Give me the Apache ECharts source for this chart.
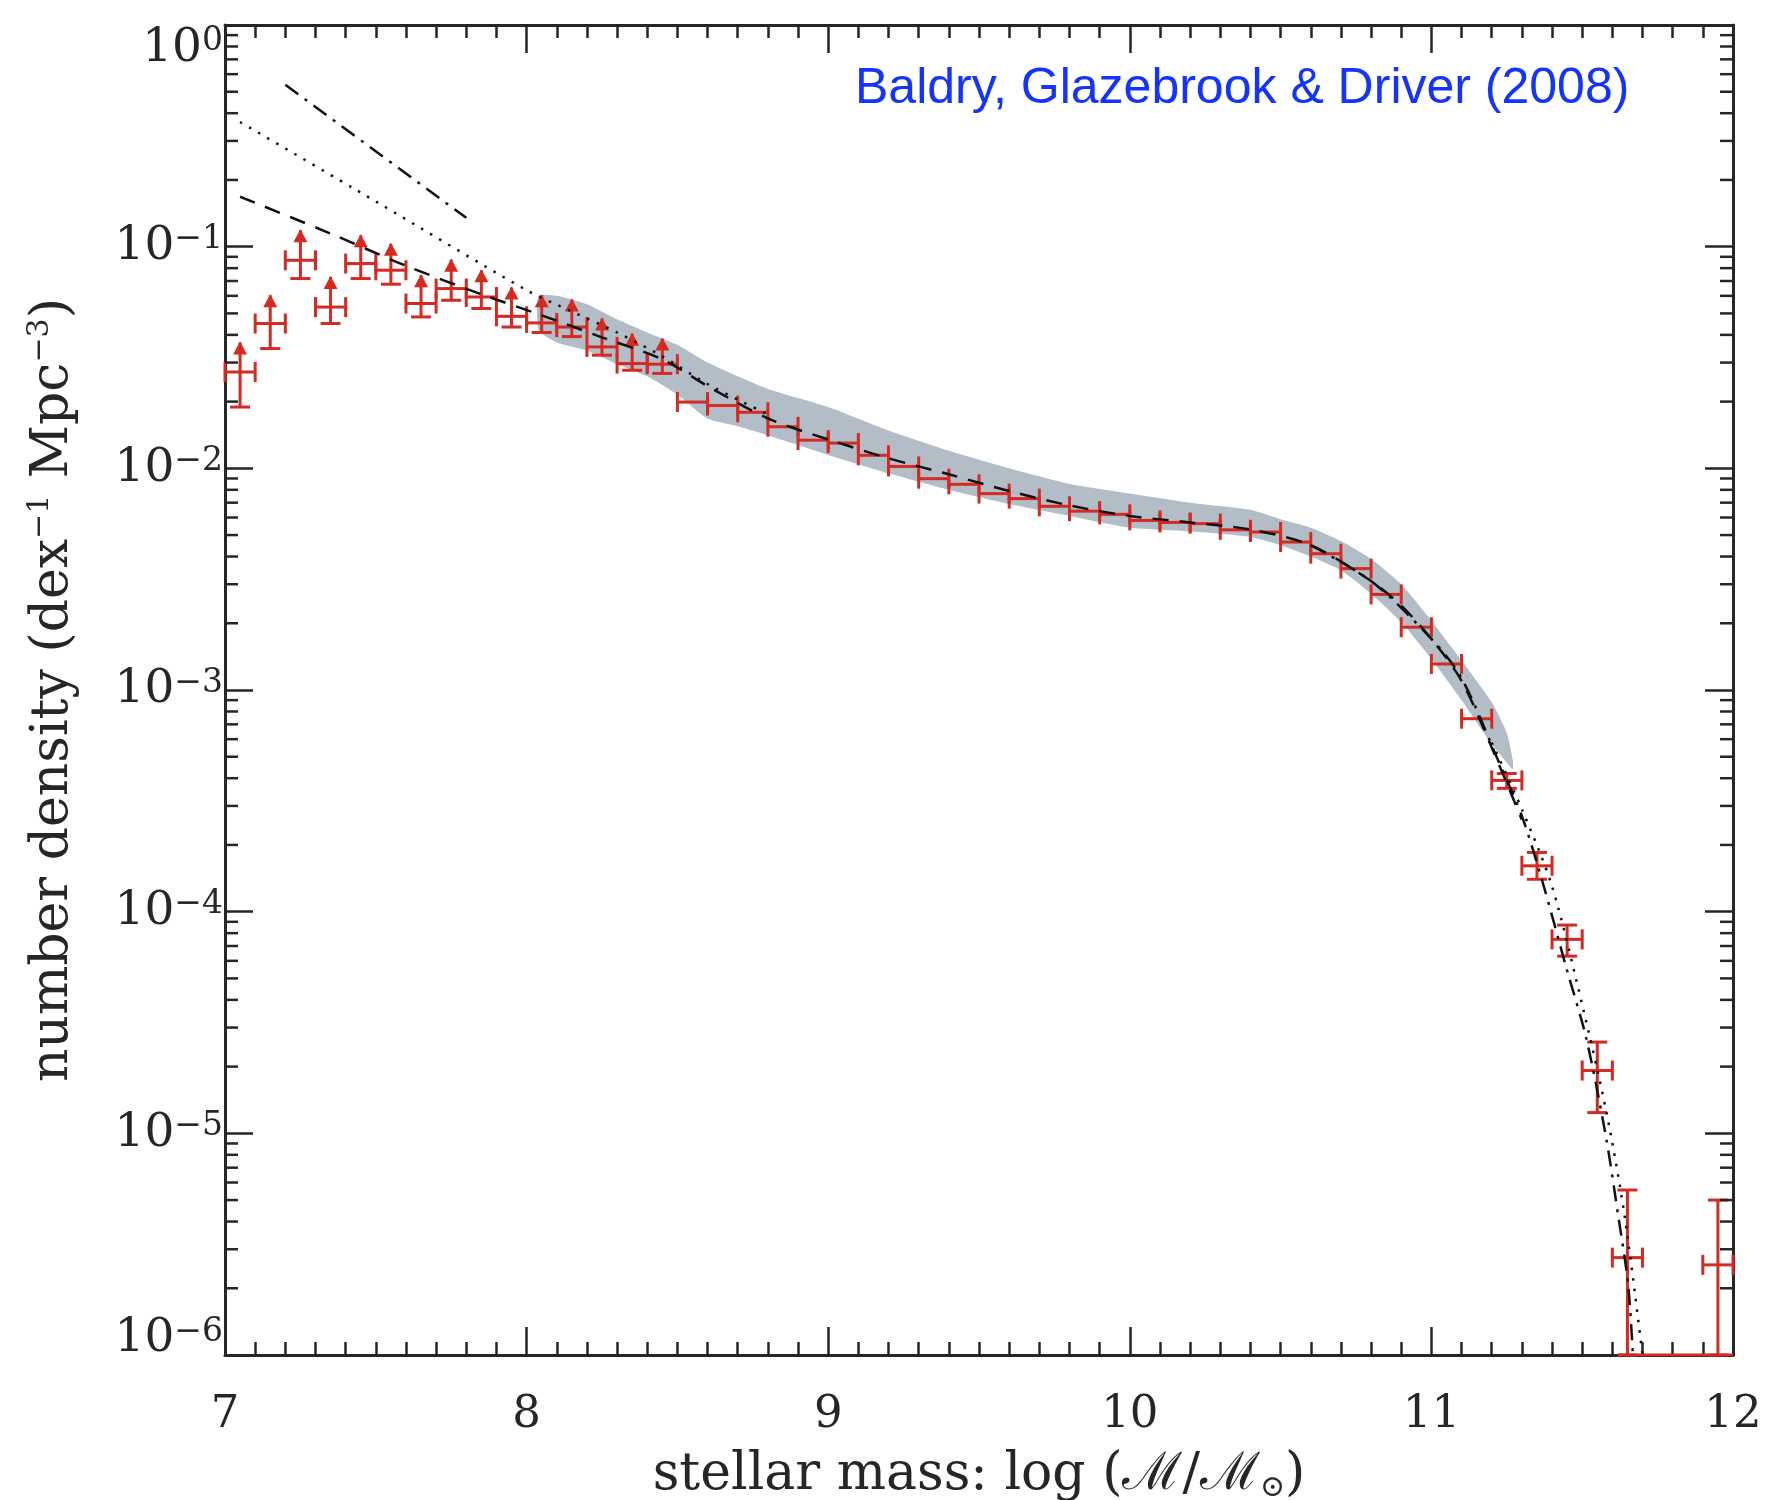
<!DOCTYPE html>
<html>
<head>
<meta charset="utf-8">
<script src="https://cdn.jsdelivr.net/npm/echarts@6/dist/echarts.min.js"></script>
<style>html,body{margin:0;padding:0;background:#fff}#c{width:1767px;height:1500px}</style>
</head>
<body>
<div id="c"></div>
<script>
// ---------------- data ----------------
// lower-limit points (with up arrows): mass, value, lower error end, arrow tip
const limMass  = [7.05, 7.15, 7.25, 7.35, 7.45, 7.55, 7.65, 7.75, 7.85, 7.95, 8.05, 8.15, 8.25, 8.35, 8.45];
const limValue = [0.0272, 0.0450, 0.0868, 0.0534, 0.0839, 0.0783, 0.0554, 0.0647, 0.0593, 0.0485, 0.0453, 0.0434, 0.0353, 0.0297, 0.0295];
const limLow   = [0.0189, 0.0347, 0.0718, 0.0450, 0.0718, 0.0677, 0.0482, 0.0573, 0.0526, 0.0434, 0.0410, 0.0393, 0.0324, 0.0277, 0.0268];
const limArrow = [0.0370, 0.0604, 0.1186, 0.0730, 0.1126, 0.1030, 0.0743, 0.0874, 0.0783, 0.0654, 0.0604, 0.0577, 0.0474, 0.0405, 0.0385];

// well-measured points (tiny vertical errors)
const midMass  = [8.55, 8.65, 8.75, 8.85, 8.95, 9.05, 9.15, 9.25, 9.35, 9.45, 9.55, 9.65, 9.75, 9.85, 9.95,
                  10.05, 10.15, 10.25, 10.35, 10.45, 10.55, 10.65, 10.75, 10.85, 10.95, 11.05, 11.15];
const midValue = [0.0199, 0.0192, 0.0179, 0.0154, 0.0134, 0.0130, 0.01145, 0.0102, 0.00898, 0.00847, 0.00769, 0.0073, 0.00674, 0.00641, 0.00620,
                  0.00582, 0.00570, 0.00563, 0.00528, 0.00516, 0.00465, 0.00412, 0.00353, 0.00270, 0.00192, 0.00131, 0.000742];

// high-mass points with visible vertical error bars
const tailMass  = [11.25, 11.35, 11.45, 11.55, 11.65, 11.95];
const tailValue = [0.000391, 0.000161, 7.5e-5, 1.92e-5, 2.75e-6, 2.55e-6];
const tailLow   = [0.000360, 0.000140, 6.3e-5, 1.24e-5, 1.0e-6, 1.0e-6];
const tailHigh  = [0.000420, 0.000185, 8.7e-5, 2.58e-5, 5.55e-6, 5.0e-6];

// red segment lying on the lower axis
const floorMass  = [11.62, 12.0];
const floorValue = [1e-6, 1e-6];

// grey uncertainty band
const bandMass  = [8.04, 8.1, 8.2, 8.3, 8.4, 8.5, 8.6, 8.7, 8.8, 9.0, 9.2, 9.4, 9.6, 9.8, 10.0, 10.2, 10.4, 10.5, 10.6, 10.7, 10.8, 10.9, 11.0, 11.1, 11.2, 11.25, 11.27];
const bandUpper = [0.060, 0.060, 0.055, 0.047, 0.041, 0.036, 0.030, 0.026, 0.0228, 0.0189, 0.0148, 0.0120, 0.0100, 0.0085, 0.0077, 0.0070, 0.0065, 0.0059, 0.0054, 0.0047, 0.0039, 0.0030, 0.00205, 0.00136, 0.00088, 0.00064, 0.00048];
const bandLower = [0.042, 0.037, 0.034, 0.0295, 0.026, 0.0215, 0.0168, 0.0155, 0.0141, 0.0115, 0.0095, 0.0080, 0.0069, 0.0061, 0.0054, 0.0052, 0.0049, 0.0045, 0.0040, 0.00347, 0.00272, 0.00202, 0.00138, 0.00090, 0.00057, 0.00047, 0.00044];

// model fits
const dashedMass  = [7.05, 7.35, 7.6, 7.85, 8.05, 8.25, 8.45, 8.6, 8.8, 9.0, 9.2, 9.4, 9.6, 9.8, 10.0, 10.2, 10.4, 10.6, 10.8, 10.9, 11.0, 11.1, 11.2, 11.3];
const dashedValue = [0.168, 0.1146, 0.082, 0.061, 0.049, 0.039, 0.031, 0.0235, 0.0168, 0.0135, 0.0111, 0.0094, 0.0079, 0.0068, 0.0061, 0.0057, 0.0053, 0.0045, 0.0031, 0.0024, 0.0017, 0.0011, 0.00055, 0.00026];

const dottedLowMass   = [7.05, 7.5, 8.0, 8.15, 8.3, 8.45, 8.6, 8.8];
const dottedLowValue  = [0.365, 0.160, 0.0636, 0.0510, 0.041, 0.032, 0.024, 0.0175];
const dottedHighMass  = [11.2, 11.3, 11.4, 11.5, 11.58, 11.64, 11.70];
const dottedHighValue = [0.00058, 0.00029, 0.00013, 3.8e-5, 1.25e-5, 4.3e-6, 1.0e-6];

const dashDotLowMass   = [7.2, 7.8];
const dashDotLowValue  = [0.537, 0.135];
const dashDotHighMass  = [10.6, 10.8, 11.0, 11.1, 11.226, 11.3, 11.37, 11.447, 11.513, 11.579, 11.62, 11.652, 11.668];
const dashDotHighValue = [0.0045, 0.0031, 0.0017, 0.00113, 0.000465, 0.00027, 0.000134, 5.6e-5, 2.7e-5, 9.6e-6, 4.2e-6, 2.1e-6, 1.0e-6];

const xTickLabels = ['7', '8', '9', '10', '11', '12'];
const BIN_HALF = 0.05;
const X_MIN = 7, X_MAX = 12, Y_MIN = 1e-6, Y_MAX = 1;

// ---------------- styling ----------------
const RED = '#d42a22';
const AX = '#262626';
const TXT = '#262626';
const BAND = '#b3bdc7';
const SERIF = 'DejaVu Serif';
const CAP = 10;

function zip(a, b) { return a.map((v, i) => [v, b[i]]); }

function errItem(params, api) {
  const x = api.value(0), y = api.value(1), lo = api.value(2), hi = api.value(3), arrow = api.value(4);
  const l = api.coord([x - BIN_HALF, y]);
  const r = api.coord([x + BIN_HALF, y]);
  const st = { stroke: RED, lineWidth: 3, fill: null };
  const kids = [
    { type: 'line', shape: { x1: l[0], y1: l[1], x2: r[0], y2: r[1] }, style: st },
    { type: 'line', shape: { x1: l[0], y1: l[1] - CAP, x2: l[0], y2: l[1] + CAP }, style: st },
    { type: 'line', shape: { x1: r[0], y1: r[1] - CAP, x2: r[0], y2: r[1] + CAP }, style: st }
  ];
  if (lo !== hi) {
    const pl = api.coord([x, lo]), ph = api.coord([x, hi]);
    kids.push({ type: 'line', shape: { x1: pl[0], y1: pl[1], x2: ph[0], y2: ph[1] }, style: st });
    kids.push({ type: 'line', shape: { x1: pl[0] - CAP, y1: pl[1], x2: pl[0] + CAP, y2: pl[1] }, style: st });
    if (arrow) {
      kids.push({ type: 'polygon', shape: { points: [[ph[0], ph[1] - 1], [ph[0] - 7, ph[1] + 12], [ph[0] + 7, ph[1] + 12]] }, style: { fill: RED } });
    } else {
      kids.push({ type: 'line', shape: { x1: ph[0] - CAP, y1: ph[1], x2: ph[0] + CAP, y2: ph[1] }, style: st });
    }
  }
  return { type: 'group', children: kids };
}

const limData  = limMass.map((m, i) => [m, limValue[i], limLow[i], limArrow[i], 1]);
const midData  = midMass.map((m, i) => [m, midValue[i], midValue[i], midValue[i], 0]);
const tailData = tailMass.map((m, i) => [m, tailValue[i], tailLow[i], tailHigh[i], 0]);

// minor log ticks at 2..9 x 10^n
const yMinor = [];
for (let e = -6; e < 0; e++) for (let k = 2; k <= 9; k++) yMinor.push([X_MIN, k * Math.pow(10, e)]);

function fmtExp(v) {
  const e = Math.round(Math.log10(v));
  const s = e < 0 ? '\u2212' + (-e) : String(e);
  if (e === -6) return '{b|10}{e|' + s + '}\n{gap| }';
  return '{b|10}{e|' + s + '}';
}

const axisLineStyle = { color: AX, width: 3 };
const tickStyle = { color: AX, width: 2.5 };

const option = {
  animation: false,
  backgroundColor: '#ffffff',
  grid: { left: 225, right: 34, top: 25, bottom: 145, containLabel: false, outerBoundsMode: 'none' },
  graphic: [{
    type: 'text', left: 855, top: 64, z: 10,
    style: { text: 'Baldry, Glazebrook & Driver (2008)', fill: '#1433ff', font: '50px "Liberation Sans", Arial, sans-serif' }
  }],
  xAxis: [{
    type: 'value', min: X_MIN, max: X_MAX, interval: 1, position: 'bottom',
    axisLine: { show: true, onZero: false, lineStyle: axisLineStyle },
    axisTick: { show: true, inside: true, length: 28, lineStyle: tickStyle },
    minorTick: { show: true, splitNumber: 10, length: 13, lineStyle: tickStyle },
    splitLine: { show: false }, minorSplitLine: { show: false },
    axisLabel: { fontFamily: SERIF, fontSize: 45, color: TXT, margin: 38,
      formatter: v => xTickLabels[Math.round(v - X_MIN)] },
    name: '{t|stellar mass: log (\u2133/\u2133}{u|\u2299}{t|)}',
    nameLocation: 'middle', nameGap: 94,
    nameTextStyle: { rich: {
      t: { fontFamily: SERIF, fontSize: 52, color: TXT, lineHeight: 54, padding: [0, 0, 12, 0], verticalAlign: 'top' },
      u: { fontFamily: SERIF, fontSize: 30, color: TXT, lineHeight: 30, verticalAlign: 'bottom' }
    } }
  }, {
    type: 'value', min: X_MIN, max: X_MAX, interval: 1, position: 'top',
    axisLine: { show: true, onZero: false, lineStyle: axisLineStyle },
    axisTick: { show: true, inside: true, length: 28, lineStyle: tickStyle },
    minorTick: { show: true, splitNumber: 10, length: 13, lineStyle: tickStyle },
    splitLine: { show: false }, axisLabel: { show: false }
  }],
  yAxis: [{
    type: 'log', logBase: 10, min: Y_MIN, max: Y_MAX, position: 'left',
    axisLine: { show: true, onZero: false, lineStyle: axisLineStyle },
    axisTick: { show: true, inside: true, length: 28, lineStyle: tickStyle },
    splitLine: { show: false },
    axisLabel: { margin: 2, formatter: fmtExp,
      verticalAlignMaxLabel: 'top',
      rich: {
        b: { fontFamily: SERIF, fontSize: 47, color: TXT, lineHeight: 47, padding: [10, 0, 0, 0], verticalAlign: 'bottom' },
        e: { fontFamily: SERIF, fontSize: 33, color: TXT, lineHeight: 33, verticalAlign: 'top' },
        gap: { fontSize: 2, lineHeight: 32 }
      } },
    name: '{t|number density (dex}{s|\u22121}{t| Mpc}{s|\u22123}{t|)}',
    nameLocation: 'middle', nameRotate: 90, nameGap: 146,
    nameTextStyle: { rich: {
      t: { fontFamily: SERIF, fontSize: 52, color: TXT, lineHeight: 54, padding: [12, 0, 0, 0], verticalAlign: 'bottom' },
      s: { fontFamily: SERIF, fontSize: 30, color: TXT, lineHeight: 30, verticalAlign: 'top' }
    } }
  }, {
    type: 'log', logBase: 10, min: Y_MIN, max: Y_MAX, position: 'right',
    axisLine: { show: true, onZero: false, lineStyle: axisLineStyle },
    axisTick: { show: true, inside: true, length: 28, lineStyle: tickStyle },
    splitLine: { show: false }, axisLabel: { show: false }
  }],
  series: [
    { type: 'custom', name: 'band', z: 1, silent: true, data: [[bandMass[0], bandUpper[0]]],
      renderItem: (params, api) => {
        const pts = [];
        for (let i = 0; i < bandMass.length; i++) pts.push(api.coord([bandMass[i], bandUpper[i]]));
        for (let i = bandMass.length - 1; i >= 0; i--) pts.push(api.coord([bandMass[i], bandLower[i]]));
        return { type: 'polygon', shape: { points: pts, smooth: 0.2 }, style: { fill: BAND } };
      } },
    { type: 'custom', name: 'lower limits', z: 3, data: limData, renderItem: errItem },
    { type: 'custom', name: 'points', z: 3, data: midData, renderItem: errItem },
    { type: 'custom', name: 'high mass', z: 3, data: tailData, renderItem: errItem },
    { type: 'line', name: 'floor', z: 3, data: zip(floorMass, floorValue), showSymbol: false,
      lineStyle: { color: RED, width: 3 } },
    { type: 'line', name: 'dashed fit', z: 4, data: zip(dashedMass, dashedValue), showSymbol: false, smooth: 0.3,
      lineStyle: { color: '#111', width: 2.5, type: [16, 11] } },
    { type: 'line', name: 'dotted fit', z: 4, data: zip(dottedLowMass, dottedLowValue), showSymbol: false, smooth: 0.3,
      lineStyle: { color: '#111', width: 2.5, type: [2.5, 8] } },
    { type: 'line', name: 'dotted fit tail', z: 4, data: zip(dottedHighMass, dottedHighValue), showSymbol: false, smooth: 0.3,
      lineStyle: { color: '#111', width: 2.5, type: [2.5, 8] } },
    { type: 'line', name: 'dash-dot fit', z: 4, data: zip(dashDotLowMass, dashDotLowValue), showSymbol: false,
      lineStyle: { color: '#111', width: 2.5, type: [16, 8, 3, 8] } },
    { type: 'line', name: 'dash-dot fit tail', z: 4, data: zip(dashDotHighMass, dashDotHighValue), showSymbol: false, smooth: 0.3,
      lineStyle: { color: '#111', width: 2.5, type: [16, 8, 3, 8] } },
    { type: 'custom', name: 'minor y ticks', z: 5, silent: true, data: yMinor,
      renderItem: (params, api) => {
        const v = api.value(1);
        const L = api.coord([X_MIN, v]);
        const R = api.coord([X_MAX, v]);
        const st = { stroke: AX, lineWidth: 2.5 };
        return { type: 'group', children: [
          { type: 'line', shape: { x1: L[0], y1: L[1], x2: L[0] + 13, y2: L[1] }, style: st },
          { type: 'line', shape: { x1: R[0] - 13, y1: R[1], x2: R[0], y2: R[1] }, style: st }
        ] };
      } }
  ]
};

const chart = echarts.init(document.getElementById('c'), null, { renderer: 'canvas' });
chart.setOption(option);
</script>
</body>
</html>
